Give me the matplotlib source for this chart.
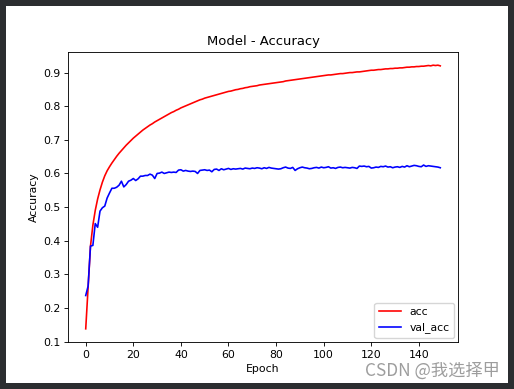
"""Model accuracy curves (acc / val_acc) over 150 epochs."""

import matplotlib
matplotlib.use('Agg')
import matplotlib.pyplot as plt
from matplotlib.patches import Rectangle

W, H = 514, 389
DPI = 100
SCALE = 0.784
FS = 10 * SCALE

EPOCHS = list(range(150))

ACC = [
    0.138, 0.262, 0.384, 0.446, 0.490, 0.524, 0.551, 0.574, 0.593, 0.608,
    0.620, 0.631, 0.641, 0.651, 0.660, 0.668, 0.676, 0.684, 0.691, 0.698,
    0.705, 0.711, 0.717, 0.723, 0.729, 0.734, 0.739, 0.744, 0.748, 0.753,
    0.757, 0.761, 0.765, 0.769, 0.773, 0.777, 0.781, 0.784, 0.788, 0.791,
    0.795, 0.798, 0.801, 0.804, 0.807, 0.810, 0.813, 0.816, 0.819, 0.821,
    0.824, 0.826, 0.828, 0.830, 0.832, 0.834, 0.836, 0.838, 0.840, 0.842,
    0.844, 0.845, 0.847, 0.849, 0.850, 0.852, 0.853, 0.855, 0.856, 0.858,
    0.859, 0.860, 0.861, 0.863, 0.864, 0.865, 0.866, 0.867, 0.868, 0.869,
    0.870, 0.871, 0.872, 0.873, 0.875, 0.876, 0.877, 0.878, 0.879, 0.880,
    0.881, 0.882, 0.883, 0.884, 0.885, 0.886, 0.887, 0.888, 0.889, 0.890,
    0.891, 0.892, 0.893, 0.893, 0.894, 0.895, 0.896, 0.897, 0.897, 0.898,
    0.899, 0.900, 0.900, 0.901, 0.902, 0.902, 0.903, 0.904, 0.905, 0.906,
    0.907, 0.907, 0.908, 0.909, 0.909, 0.910, 0.911, 0.911, 0.912, 0.912,
    0.913, 0.913, 0.914, 0.914, 0.915, 0.916, 0.916, 0.917, 0.917, 0.918,
    0.918, 0.919, 0.919, 0.920, 0.921, 0.920, 0.922, 0.921, 0.922, 0.920,
]

VAL_ACC = [
    0.237, 0.265, 0.384, 0.386, 0.451, 0.440, 0.488, 0.498, 0.503, 0.527,
    0.542, 0.556, 0.556, 0.559, 0.565, 0.577, 0.560, 0.567, 0.577, 0.580,
    0.585, 0.579, 0.584, 0.592, 0.592, 0.594, 0.594, 0.598, 0.595, 0.585,
    0.600, 0.601, 0.604, 0.600, 0.602, 0.604, 0.603, 0.604, 0.603, 0.610,
    0.611, 0.607, 0.609, 0.607, 0.606, 0.607, 0.606, 0.600, 0.609, 0.610,
    0.611, 0.609, 0.610, 0.605, 0.612, 0.613, 0.609, 0.614, 0.611, 0.613,
    0.615, 0.612, 0.614, 0.613, 0.614, 0.615, 0.613, 0.616, 0.615, 0.614,
    0.616, 0.615, 0.617, 0.616, 0.614, 0.617, 0.615, 0.618, 0.616, 0.615,
    0.614, 0.613, 0.614, 0.617, 0.619, 0.616, 0.615, 0.618, 0.609, 0.614,
    0.617, 0.619, 0.617, 0.616, 0.614, 0.615, 0.617, 0.618, 0.616, 0.619,
    0.617, 0.618, 0.620, 0.616, 0.617, 0.615, 0.618, 0.619, 0.617, 0.618,
    0.617, 0.616, 0.618, 0.617, 0.615, 0.622, 0.621, 0.622, 0.620, 0.621,
    0.616, 0.617, 0.619, 0.618, 0.621, 0.620, 0.622, 0.619, 0.620, 0.617,
    0.619, 0.620, 0.618, 0.621, 0.619, 0.623, 0.620, 0.622, 0.624, 0.623,
    0.621, 0.620, 0.625, 0.621, 0.623, 0.622, 0.621, 0.620, 0.619, 0.617,
]

BORDER = '#2b2d30'


def main():
    plt.rcParams['font.size'] = FS
    plt.rcParams['axes.linewidth'] = 0.8 * SCALE
    for ax_name in ('xtick', 'ytick'):
        plt.rcParams[ax_name + '.major.size'] = 3.5 * SCALE
        plt.rcParams[ax_name + '.major.width'] = 0.8 * SCALE
        plt.rcParams[ax_name + '.major.pad'] = 3.5 * SCALE

    fig = plt.figure(figsize=(W / DPI, H / DPI), dpi=DPI, facecolor=BORDER)
    # white canvas of the screenshot, kept behind the axes
    fig.patches.append(Rectangle((6 / W, 6 / H), 502 / W, 377 / H,
                                 transform=fig.transFigure, facecolor='white',
                                 edgecolor='none', zorder=-10))

    ax = fig.add_axes([68 / W, 47 / H, 390 / W, 290 / H])
    ax.plot(EPOCHS, ACC, color='red', lw=1.5 * SCALE, label='acc')
    ax.plot(EPOCHS, VAL_ACC, color='blue', lw=1.5 * SCALE, label='val_acc')
    ax.set_title('Model - Accuracy', fontsize=12 * SCALE, pad=6 * SCALE)
    ax.set_xlabel('Epoch', labelpad=4 * SCALE)
    ax.set_ylabel('Accuracy', labelpad=4 * SCALE)
    ax.set_xticks(range(0, 141, 20))
    ax.set_yticks([0.1, 0.2, 0.3, 0.4, 0.5, 0.6, 0.7, 0.8, 0.9])
    ax.legend(loc='lower right', fontsize=FS, borderaxespad=0.5 * SCALE)

    fig.text(500 / W, 18 / H, 'CSDN @我选择甲', ha='right', va='center',
             fontsize=12.4, color='#8c8c8c', alpha=0.85,
             family=['Noto Sans CJK SC', 'DejaVu Sans'])

    fig.savefig('out.png', dpi=DPI, facecolor=BORDER)
    plt.close(fig)


if __name__ == '__main__':
    main()
